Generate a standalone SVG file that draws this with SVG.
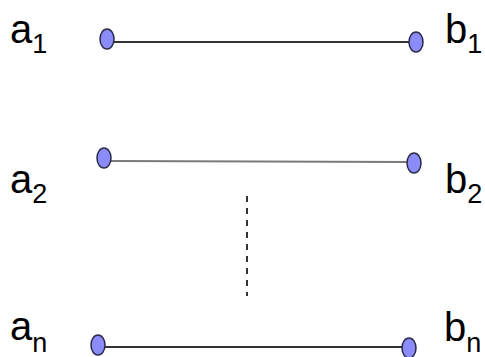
<svg xmlns="http://www.w3.org/2000/svg" width="485" height="357" viewBox="0 0 485 357">
<style>
.lbl{font-family:"Liberation Sans",Arial,sans-serif;font-size:40px;fill:#000}
.sub{font-size:27px}
.pt{fill:#8c8cf8;stroke:#2a2a4a;stroke-width:1.5}
.ln{stroke:#333;stroke-width:2;fill:none}
</style>
<g id="connectors">
<line class="ln" x1="113" y1="42" x2="410" y2="42"/>
<line class="ln" x1="111" y1="161" x2="407" y2="162" style="stroke:#7a7a7a"/>
<line class="ln" x1="105" y1="347" x2="402" y2="347"/>
<line x1="247" y1="196" x2="247" y2="296" stroke="#333" stroke-width="2" stroke-dasharray="6 6"/>
</g>
<g id="a1"><text class="lbl" x="10" y="43">a<tspan class="sub" dy="10">1</tspan></text><ellipse class="pt" cx="107" cy="39" rx="7" ry="10"/></g>
<g id="b1"><text class="lbl" x="445" y="43">b<tspan class="sub" dy="10">1</tspan></text><ellipse class="pt" cx="416" cy="42" rx="7" ry="10"/></g>
<g id="a2"><text class="lbl" x="10" y="193">a<tspan class="sub" dy="10">2</tspan></text><ellipse class="pt" cx="104" cy="158" rx="7" ry="10"/></g>
<g id="b2"><text class="lbl" x="445" y="193">b<tspan class="sub" dy="10">2</tspan></text><ellipse class="pt" cx="414" cy="163" rx="7" ry="10"/></g>
<g id="an"><text class="lbl" x="10" y="340">a<tspan class="sub" dy="12">n</tspan></text><ellipse class="pt" cx="98" cy="345" rx="7" ry="10"/></g>
<g id="bn"><text class="lbl" x="444" y="341">b<tspan class="sub" dy="11">n</tspan></text><ellipse class="pt" cx="409" cy="348" rx="7" ry="10"/></g>
</svg>
